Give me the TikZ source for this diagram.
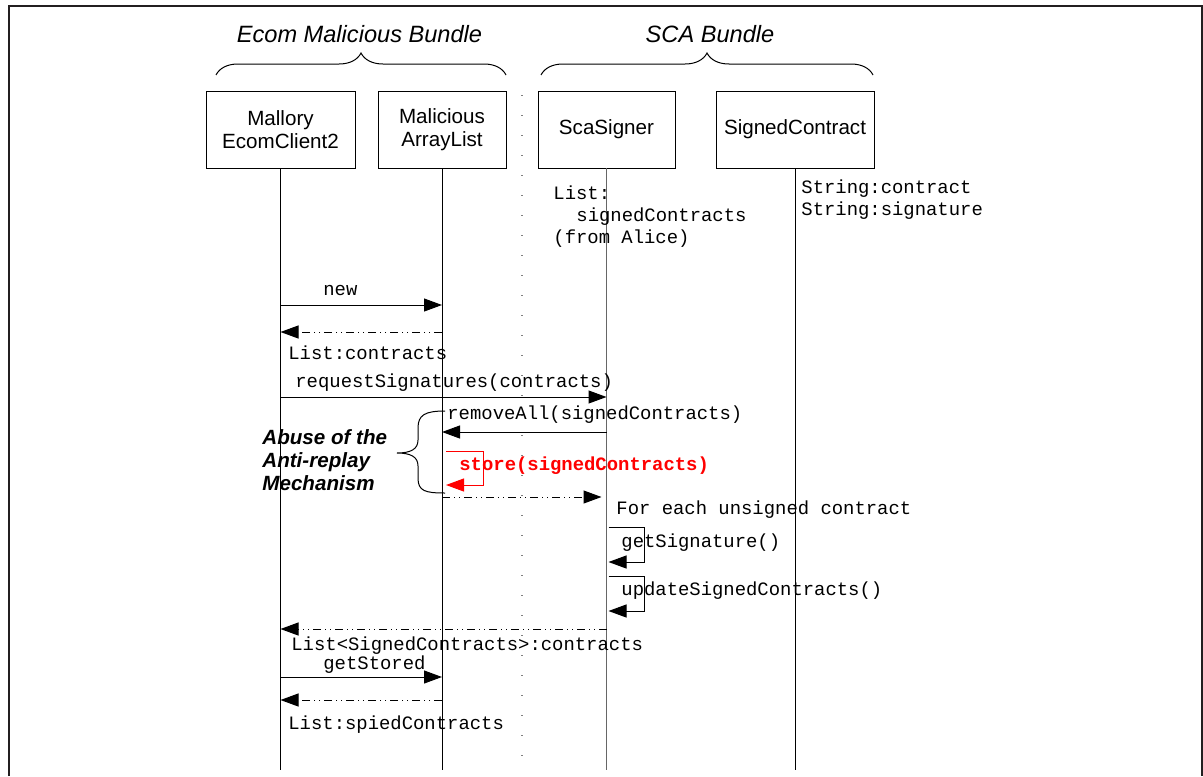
\documentclass[tikz,border=0pt]{standalone}
\usepackage{fontspec}
\setmainfont{Liberation Sans}
\setmonofont{Liberation Mono}
\usetikzlibrary{arrows.meta,calc,decorations.pathreplacing,positioning}

\definecolor{framegray}{HTML}{231F20}
\definecolor{lifegray}{HTML}{666666}

\newcommand{\boxfont}{\fontsize{10.3}{11.5}\selectfont}
\newcommand{\codefont}{\ttfamily\fontsize{9.45}{11}\selectfont}

\tikzset{
  obj/.style={draw,line width=0.5pt,minimum height=38.5pt,inner sep=0pt,outer sep=0pt,align=center,font=\boxfont},
  code/.style={inner sep=0pt,anchor=base west,font=\codefont},
  call/.style={line width=0.5pt,-{Triangle[length=9pt,width=6.5pt]}},
  reply/.style={call,dash pattern=on 4pt off 2pt on 0.5pt off 2pt on 0.5pt off 2pt},
  bundle/.style={decorate,decoration={brace,amplitude=11pt},line width=0.5pt}
}

\begin{document}
\begin{tikzpicture}[x=0.5pt,y=-0.5pt]
\useasboundingbox (0,0) rectangle (1203,776);

\draw[framegray,line width=1.2pt] (8.7,776) -- (8.7,6) -- (1201.8,6) -- (1201.8,776);

% bundles
\node[font=\fontsize{11.8}{14}\selectfont\itshape,anchor=base] (ecom) at (359.5,42) {Ecom Malicious Bundle};
\node[font=\fontsize{11.8}{14}\selectfont\itshape,anchor=base] (scab) at (710,42) {SCA Bundle};
\draw[bundle] (216,75) -- (506,75);
\draw[bundle] (541,75) -- (873,75);

% objects
\node[obj,minimum width=74.5pt] (mal) at (280.5,129.5) {Mallory\\EcomClient2};
\node[obj,minimum width=64pt,right=11.5pt of mal] (arr) {Malicious\\ArrayList};
\node[obj,minimum width=68.5pt,right=16pt of arr] (sca) {ScaSigner};
\node[obj,minimum width=79pt,right=20.5pt of sca] (sig) {SignedContract};

% lifelines
\draw[line width=0.5pt] (mal.south) -- (mal.south |- 0,770);
\draw[line width=0.5pt] (arr.south) -- (arr.south |- 0,770);
\draw[lifegray,line width=0.6pt] (sca.south) -- (sca.south |- 0,770);
\draw[line width=0.5pt] (sig.south) -- (sig.south |- 0,770);

\draw[gray,line width=0.8pt,dash pattern=on 0.5pt off 9.5pt] (522,95) -- (522,770);

% attributes
\node[code,anchor=north west,align=left] (tlistsc) at (553,185.5) {List:\\\hspace*{11.5pt}signedContracts\\(from Alice)};
\node[code,anchor=north west,align=left] (tstrings) at (801,179.5) {String:contract\\String:signature};

% messages
\node[code] (tnew) at (323,295) {new};
\draw[call] (mal |- 0,305) -- (arr |- 0,305);
\draw[reply] (arr |- 0,332) -- (mal |- 0,332);
\node[code] (tcontracts) at (288,359) {List:contracts};

\node[code] (treq) at (295,387) {requestSignatures(contracts)};
\draw[call] (mal |- 0,397) -- (sca |- 0,397);
\node[code] (tremove) at (447,419) {removeAll(signedContracts)};
\draw[call] (sca |- 0,432) -- (arr |- 0,432);

\draw[call,red] ($(arr |- 0,451)+(4,0)$) -- ++(37,0) -- ++(0,34) -- ++(-37,0);
\node[code,font=\codefont\bfseries,text=red] (tstore) at (459,470) {store(signedContracts)};
\draw[reply] (arr |- 0,497) -- ($(sca |- 0,497)+(-5,0)$);

\node[code] (teach) at (616,514) {For each unsigned contract};
\draw[call] ($(sca |- 0,527)+(2,0)$) -- ++(36,0) -- ++(0,35) -- ++(-36,0);
\node[code] (tgetsig) at (621,547) {getSignature()};
\draw[call] ($(sca |- 0,576)+(2,0)$) -- ++(36,0) -- ++(0,35) -- ++(-36,0);
\node[code] (tupdate) at (621,595) {updateSignedContracts()};

\draw[reply] (sca |- 0,629) -- (mal |- 0,629);
\node[code] (tlist) at (291,650) {List<SignedContracts>:contracts};
\node[code] (tgetstored) at (323,669) {getStored};
\draw[call] (mal |- 0,677) -- (arr |- 0,677);
\draw[reply] (arr |- 0,700) -- (mal |- 0,700);
\node[code] (tspied) at (288,729) {List:spiedContracts};

% abuse
\draw[line width=0.5pt] (445,411) .. controls (425,411) and (418,415) .. (418,428) -- (418,440)
  .. controls (418,449) and (411,453) .. (397,453) .. controls (411,453) and (418,457) .. (418,466)
  -- (418,478) .. controls (418,491) and (425,493) .. (445,493);
\node[anchor=north west,inner sep=0pt,align=left,font=\fontsize{10.3}{11.5}\selectfont\bfseries\itshape] (tabuse) at (262,429) {Abuse of the\\Anti-replay\\Mechanism};

\end{tikzpicture}
\end{document}
